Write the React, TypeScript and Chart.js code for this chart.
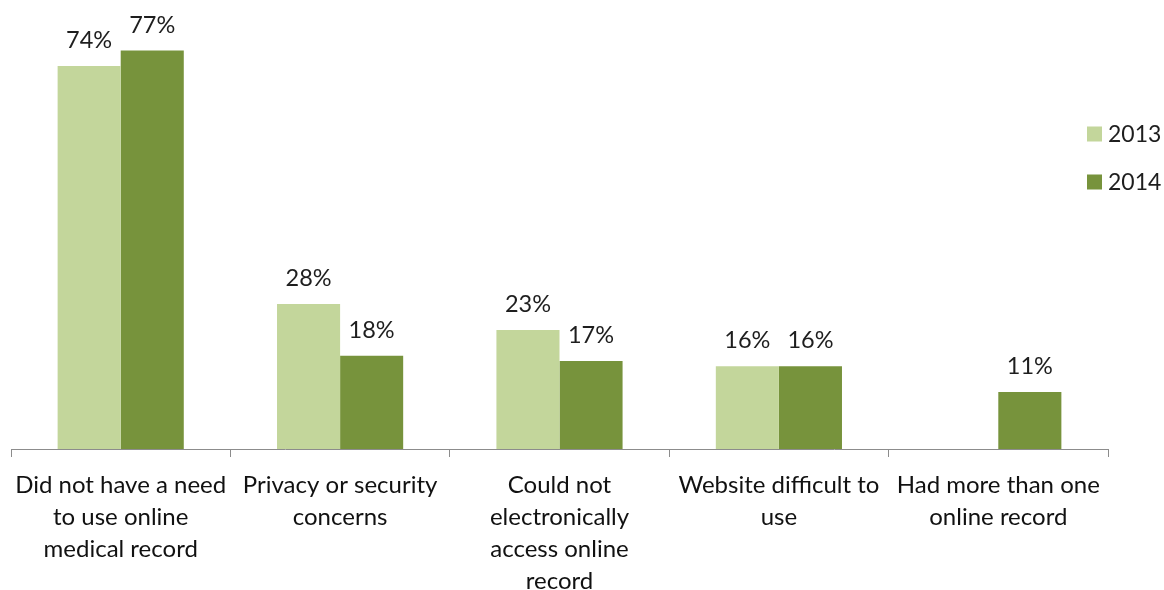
import React, { useEffect, useRef } from "react";
import { Chart, registerables } from "chart.js";

Chart.register(...registerables);

const categories: string[][] = [
  ["Did not have a need", "to use online", "medical record"],
  ["Privacy or security", "concerns"],
  ["Could not", "electronically", "access online", "record"],
  ["Website difficult to", "use"],
  ["Had more than one", "online record"],
];
const years = ["2013", "2014"];
const values2013: (number | null)[] = [74, 28, 23, 16, null];
const values2014: (number | null)[] = [77, 18, 17, 16, 11];
const colors = ["#c3d69b", "#77933c"];
const FONT = "Lato, 'Open Sans', sans-serif";

const valueLabels = {
  id: "valueLabels",
  afterDatasetsDraw(chart: any) {
    const ctx = chart.ctx;
    ctx.save();
    ctx.font = `23.5px ${FONT}`;
    ctx.fillStyle = "#1e1e1e";
    ctx.textAlign = "center";
    ctx.textBaseline = "alphabetic";
    chart.data.datasets.forEach((ds: any, i: number) => {
      const meta = chart.getDatasetMeta(i);
      meta.data.forEach((bar: any, j: number) => {
        const v = ds.data[j];
        if (v === null || v === undefined) return;
        ctx.fillText(`${v}%`, bar.x, bar.y - 18);
      });
    });
    ctx.restore();
  },
};

const sideLegend = {
  id: "sideLegend",
  afterDraw(chart: any) {
    const ctx = chart.ctx;
    ctx.save();
    ctx.font = `23px ${FONT}`;
    ctx.textAlign = "left";
    ctx.textBaseline = "middle";
    chart.data.datasets.forEach((ds: any, i: number) => {
      const y = 134 + i * 48;
      ctx.fillStyle = ds.backgroundColor;
      ctx.fillRect(1087, y - 7.5, 15, 15);
      ctx.fillStyle = "#1e1e1e";
      ctx.fillText(ds.label, 1108, y + 1);
    });
    ctx.restore();
  },
};

export default function App() {
  const ref = useRef<HTMLCanvasElement>(null);
  useEffect(() => {
    if (!ref.current) return;
    const chart = new Chart(ref.current, {
      type: "bar",
      data: {
        labels: categories,
        datasets: [
          { label: years[0], data: values2013, backgroundColor: colors[0], barPercentage: 1, categoryPercentage: 0.575 },
          { label: years[1], data: values2014, backgroundColor: colors[1], barPercentage: 1, categoryPercentage: 0.575 },
        ],
      },
      options: {
        animation: false,
        responsive: false,
        maintainAspectRatio: false,
        layout: { padding: { left: 11, right: 56, top: 35, bottom: 0 } },
        plugins: { legend: { display: false }, tooltip: { enabled: false } },
        scales: {
          x: {
            afterFit: (scale: any) => {
              scale.height = 141;
            },
            grid: { display: true, drawOnChartArea: false, drawTicks: true, tickLength: 8, color: "#8c8c8c" },
            border: { display: true, color: "#8c8c8c" },
            ticks: { color: "#111", font: { family: FONT, size: 24, lineHeight: 32 / 24 }, maxRotation: 0, autoSkip: false, padding: 12 },
          },
          y: { display: false, min: 0, max: 80 },
        },
      },
      plugins: [valueLabels, sideLegend],
    });
    return () => chart.destroy();
  }, []);
  return (
    <div style={{ position: "fixed", left: 0, top: 0, width: 1164, height: 590, background: "#fff" }}>
      <canvas ref={ref} width={1164} height={590} style={{ width: 1164, height: 590 }} />
    </div>
  );
}
